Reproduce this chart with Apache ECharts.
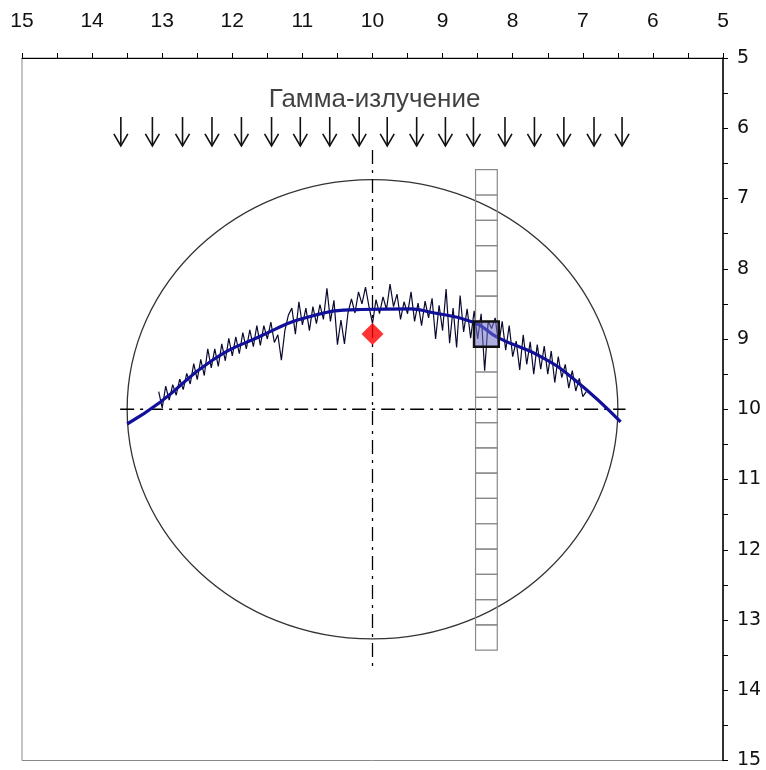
<!DOCTYPE html>
<html>
<head>
<meta charset="utf-8">
<script src="https://cdn.jsdelivr.net/npm/echarts@6/dist/echarts.min.js"></script>
<style>
  html, body { margin: 0; padding: 0; background: #fff; }
  #main { width: 766px; height: 770px; }
</style>
</head>
<body>
<div id="main"></div>
<script>
// axis ticks
var xTicks = [15, 14, 13, 12, 11, 10, 9, 8, 7, 6, 5];
var yTicks = [5, 6, 7, 8, 9, 10, 11, 12, 13, 14, 15];

// smooth fitted curve (blue)
var curveX = [13.5, 13.03, 12.31, 11.6, 10.89, 10.17, 9.46, 9.17, 8.56, 8.21, 7.6, 7.13, 6.46];
var curveY = [10.21, 9.9, 9.32, 8.96, 8.68, 8.58, 8.57, 8.62, 8.76, 8.98, 9.25, 9.57, 10.18];

// measured noisy profile, sampled every 0.05 starting at x = 13.05
var noiseStart = 13.05;
var noiseStep = -0.05;
var noiseY = [
  9.75, 9.98, 9.67, 9.87, 9.65, 9.80, 9.57, 9.72, 9.49, 9.64,
  9.35, 9.58, 9.29, 9.52, 9.14, 9.41, 9.14, 9.39, 9.07, 9.31,
  8.99, 9.24, 8.97, 9.21, 8.91, 9.14, 8.87, 9.11, 8.81, 9.09,
  8.81, 9.00, 8.76, 9.05, 8.94, 9.30, 8.88, 8.66, 8.56, 8.93,
  8.47, 8.80, 8.56, 8.88, 8.54, 8.78, 8.51, 8.72, 8.28, 8.75,
  8.45, 9.08, 8.73, 9.07, 8.63, 8.43, 8.63, 8.33, 8.50, 8.26,
  8.54, 8.78, 8.44, 8.64, 8.40, 8.58, 8.22, 8.54, 8.36, 8.72,
  8.47, 8.64, 8.33, 8.75, 8.49, 8.81, 8.46, 8.70, 8.42, 9.00,
  8.52, 8.88, 8.29, 9.06, 8.56, 9.12, 8.38, 8.90, 8.57, 8.99,
  8.60, 9.00, 8.64, 9.45, 8.75, 8.85, 8.70, 9.08, 8.75, 9.16,
  8.81, 9.25, 9.03, 9.44, 8.94, 9.36, 9.04, 9.50, 9.08, 9.43,
  9.10, 9.50, 9.17, 9.62, 9.25, 9.55, 9.36, 9.70, 9.45, 9.74,
  9.56, 9.82, 9.75
];

// outline of the object: [centerX, centerY, radiusX, radiusY]
var outline = [[10, 10, 3.5, 3.27]];

// detector strip
var stripX = [8.53, 8.22];
var stripEdges = [6.59, 6.95, 7.31, 7.67, 8.03, 8.39, 8.75, 9.11, 9.47, 9.83,
  10.19, 10.55, 10.91, 11.27, 11.63, 11.99, 12.35, 12.71, 13.07, 13.43];
var activeCell = 6;

// gamma rays
var arrowX = [13.59, 13.14, 12.71, 12.29, 11.87, 11.44, 11.03, 10.61, 10.19,
  9.79, 9.37, 8.96, 8.56, 8.11, 7.69, 7.27, 6.84, 6.44];
var arrowTop = 5.84;
var arrowBottom = 6.25;
var title = { x: 9.97, y: 5.6, text: 'Гамма-излучение' };

// axes through the centre
var vLine = [[10, 6.31], [10, 13.66]];
var hLine = [[13.6, 10], [6.39, 10]];

// centre of mass estimate
var marker = [[10.0, 8.93]];

var curveData = curveX.map(function (x, i) { return [x, curveY[i]]; });
var noiseData = noiseY.map(function (y, i) { return [noiseStart + i * noiseStep, y]; });
var cellData = [];
for (var i = 0; i < stripEdges.length - 1; i++) {
  cellData.push([stripX[0], stripX[1], stripEdges[i], stripEdges[i + 1]]);
}

var chartDom = document.getElementById('main');
var myChart = echarts.init(chartDom);
var option;

var dashDot = [14, 6, 3, 6];

option = {
  animation: false,
  backgroundColor: '#fff',
  grid: {
    left: 22, right: 43, top: 58, bottom: 8,
    show: true, borderColor: '#8a8a8a', borderWidth: 1
  },
  xAxis: {
    type: 'value', position: 'top', inverse: true,
    min: 5, max: 15, interval: 1,
    axisLine: { onZero: false, lineStyle: { color: '#000', width: 1 } },
    axisTick: { inside: false, length: 5, lineStyle: { color: '#000' } },
    minorTick: { show: true, splitNumber: 2, length: 5, lineStyle: { color: '#000' } },
    splitLine: { show: false },
    axisLabel: {
      margin: 26, color: '#111', fontSize: 21, fontFamily: 'Liberation Sans Narrow, Liberation Sans',
      showMinLabel: true, showMaxLabel: true
    }
  },
  yAxis: {
    type: 'value', position: 'right', inverse: true,
    min: 5, max: 15, interval: 1,
    axisLine: { onZero: false, lineStyle: { color: '#000', width: 1.5 } },
    axisTick: { inside: false, length: 5, lineStyle: { color: '#000' } },
    minorTick: { show: true, splitNumber: 2, length: 5, lineStyle: { color: '#000' } },
    splitLine: { show: false },
    axisLabel: {
      margin: 14, color: '#111', fontSize: 19, fontFamily: 'DejaVu Sans',
      showMinLabel: true, showMaxLabel: true
    }
  },
  series: [
    {
      name: 'outline', type: 'custom', data: outline, silent: true, z: 1,
      renderItem: function (params, api) {
        var c = api.coord([api.value(0), api.value(1)]);
        var s = api.size([api.value(2), api.value(3)]);
        return {
          type: 'ellipse',
          shape: { cx: c[0], cy: c[1], rx: s[0], ry: s[1] },
          style: { fill: 'none', stroke: '#333', lineWidth: 1.3 }
        };
      }
    },
    {
      name: 'vaxis', type: 'line', data: vLine, symbol: 'none', z: 2,
      lineStyle: { color: '#000', width: 1.3, type: dashDot }
    },
    {
      name: 'haxis', type: 'line', data: hLine, symbol: 'none', z: 2,
      lineStyle: { color: '#000', width: 1.3, type: dashDot }
    },
    {
      name: 'measured', type: 'line', data: noiseData, symbol: 'none', z: 3,
      lineStyle: { color: '#0a0a30', width: 1.2 }
    },
    {
      name: 'fit', type: 'line', data: curveData, symbol: 'none', smooth: 0.5, z: 4,
      lineStyle: { color: '#10109a', width: 3.2 }
    },
    {
      name: 'strip', type: 'custom', data: cellData, silent: true, z: 5,
      renderItem: function (params, api) {
        var p0 = api.coord([api.value(0), api.value(2)]);
        var p1 = api.coord([api.value(1), api.value(3)]);
        var active = params.dataIndex === activeCell;
        var pad = active ? 1.5 : 0;
        return {
          type: 'rect',
          shape: {
            x: Math.min(p0[0], p1[0]) - pad, y: Math.min(p0[1], p1[1]),
            width: Math.abs(p1[0] - p0[0]) + 2 * pad, height: Math.abs(p1[1] - p0[1])
          },
          style: active
            ? { fill: 'rgba(110,110,200,0.55)', stroke: '#111', lineWidth: 2.5 }
            : { fill: 'none', stroke: '#8a8a8a', lineWidth: 1.2 },
          z2: active ? 10 : 1
        };
      }
    },
    {
      name: 'rays', type: 'custom', data: arrowX.map(function (x) { return [x, arrowTop, arrowBottom]; }),
      silent: true, z: 5,
      renderItem: function (params, api) {
        var top = api.coord([api.value(0), api.value(1)]);
        var bot = api.coord([api.value(0), api.value(2)]);
        var hw = 7, hh = 12;
        return {
          type: 'group',
          children: [
            { type: 'line', shape: { x1: top[0], y1: top[1], x2: bot[0], y2: bot[1] },
              style: { stroke: '#111', lineWidth: 1.6 } },
            { type: 'polyline', shape: { points: [[bot[0] - hw, bot[1] - hh], [bot[0], bot[1]], [bot[0] + hw, bot[1] - hh]] },
              style: { fill: 'none', stroke: '#111', lineWidth: 1.6 } }
          ]
        };
      }
    },
    {
      name: 'title', type: 'scatter', data: [[title.x, title.y]], symbolSize: 0, silent: true, z: 6,
      label: {
        show: true, position: 'inside', formatter: title.text,
        color: '#111', fontSize: 26, fontFamily: 'Liberation Sans'
      }
    },
    {
      name: 'centre', type: 'scatter', data: marker, symbol: 'diamond', symbolSize: 22, z: 7,
      itemStyle: { color: '#ff0000' }
    }
  ]
};

option && myChart.setOption(option);
</script>
</body>
</html>
